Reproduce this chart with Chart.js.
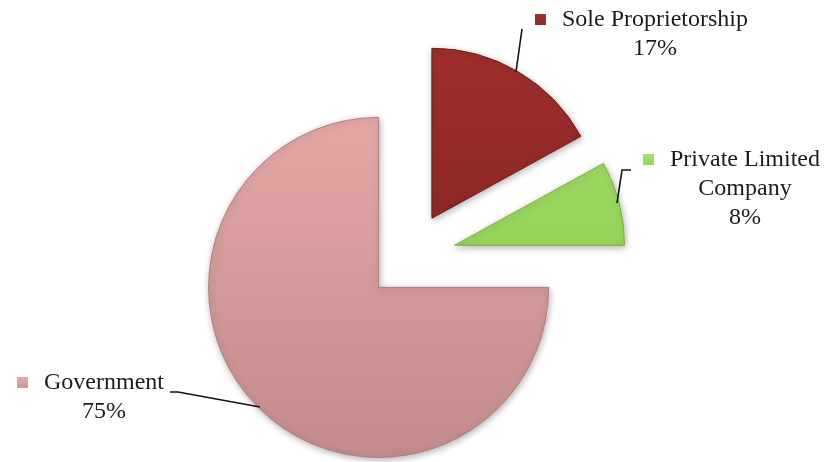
<!DOCTYPE html>
<html>
<head>
<meta charset="utf-8">
<script src="https://cdn.jsdelivr.net/npm/chart.js@4.4.0/dist/chart.umd.min.js"></script>
<style>
    html, body { margin: 0; padding: 0; background: #ffffff; }
    #wrap { width: 827px; height: 462px; position: relative; }
</style>
</head>
<body>
<div id="wrap"><canvas id="pieChart"></canvas></div>
<script>
// --- Data ---
const categories = ['Sole Proprietorship', 'Private Limited Company', 'Government'];
const shares = [17, 8, 75];

// --- Styles ---
const colorTop = ['#a3312f', '#a6df6c', '#e9abaa'];
const colorBottom = ['#7a1e1d', '#86c94a', '#bf8888'];
const edgeColor = ['#6e1a19', '#78b23f', '#b07c7c'];
const markerColor = ['#8e2a28', '#94d55a', '#c99594'];
// how far each slice is pulled out of the centre (px)
const pull = [45, 47, 43];

// label blocks: centre x, middle of first line, words on first line, leader polyline
const labelLayout = [
    { cx: 655, y: 20, firstWords: 2, leader: [[522, 29], [516, 72]] },
    { cx: 745, y: 160, firstWords: 2, leader: [[631, 170], [622, 170], [617, 203]] },
    { cx: 104, y: 383, firstWords: 1, leader: [[170, 392], [178, 392], [260, 407]] }
];

function sliceGradient(context) {
    const i = context.dataIndex;
    const chart = context.chart;
    const area = chart.chartArea;
    if (!area) return colorTop[i];
    const g = chart.ctx.createLinearGradient(0, 40, 0, 460);
    g.addColorStop(0, colorTop[i]);
    g.addColorStop(1, colorBottom[i]);
    return g;
}

// draws each arc itself, moved out along its bisector (exploded pie)
const explodePlugin = {
    id: 'explodePlugin',
    beforeDatasetDraw(chart, args) {
        const c = chart.ctx;
        c.save();
        c.shadowColor = 'rgba(0, 0, 0, 0.3)';
        c.shadowBlur = 7;
        c.shadowOffsetX = 1;
        c.shadowOffsetY = 2;
        args.meta.data.forEach((arc, i) => {
            const half = (arc.startAngle + arc.endAngle) / 2;
            c.save();
            c.translate(Math.cos(half) * pull[i], Math.sin(half) * pull[i]);
            arc.draw(c);
            c.restore();
        });
        c.restore();
        return false;
    }
};

const labelPlugin = {
    id: 'labelPlugin',
    afterDraw(chart) {
        const c = chart.ctx;
        c.save();
        c.font = '24px "Liberation Serif", "Times New Roman", serif';
        c.fillStyle = '#1b1b1b';
        c.textBaseline = 'middle';
        c.textAlign = 'center';
        const lineH = 29;

        categories.forEach((name, i) => {
            const lay = labelLayout[i];
            const words = name.split(' ');
            const lines = [words.slice(0, lay.firstWords).join(' ')];
            if (words.length > lay.firstWords) lines.push(words.slice(lay.firstWords).join(' '));
            lines.push(shares[i] + '%');

            lines.forEach((txt, k) => {
                c.fillText(txt, lay.cx, lay.y + k * lineH);
            });

            // little square marker in front of the first line
            const w = c.measureText(lines[0]).width;
            const mx = lay.cx - w / 2 - 27;
            const g = c.createLinearGradient(0, lay.y - 6, 0, lay.y + 6);
            g.addColorStop(0, colorTop[i]);
            g.addColorStop(1, markerColor[i]);
            c.fillStyle = g;
            c.fillRect(mx, lay.y - 6, 11, 11);
            c.fillStyle = '#1b1b1b';

            // leader line
            c.beginPath();
            c.strokeStyle = '#111111';
            c.lineWidth = 1.6;
            lay.leader.forEach((p, k) => {
                if (k === 0) c.moveTo(p[0], p[1]); else c.lineTo(p[0], p[1]);
            });
            c.stroke();
        });
        c.restore();
    }
};

const ctxPie = document.getElementById('pieChart').getContext('2d');
const pieChart = new Chart(ctxPie, {
    type: 'pie',
    data: {
        labels: categories,
        datasets: [{
            data: shares,
            backgroundColor: sliceGradient,
            borderColor: edgeColor,
            borderWidth: 1,
            radius: 170
        }]
    },
    options: {
        responsive: true,
        maintainAspectRatio: false,
        animation: false,
        layout: { padding: { top: 52, right: 9, left: 0, bottom: 0 } },
        plugins: {
            legend: { display: false },
            tooltip: { enabled: false }
        }
    },
    plugins: [explodePlugin, labelPlugin]
});
</script>
</body>
</html>
